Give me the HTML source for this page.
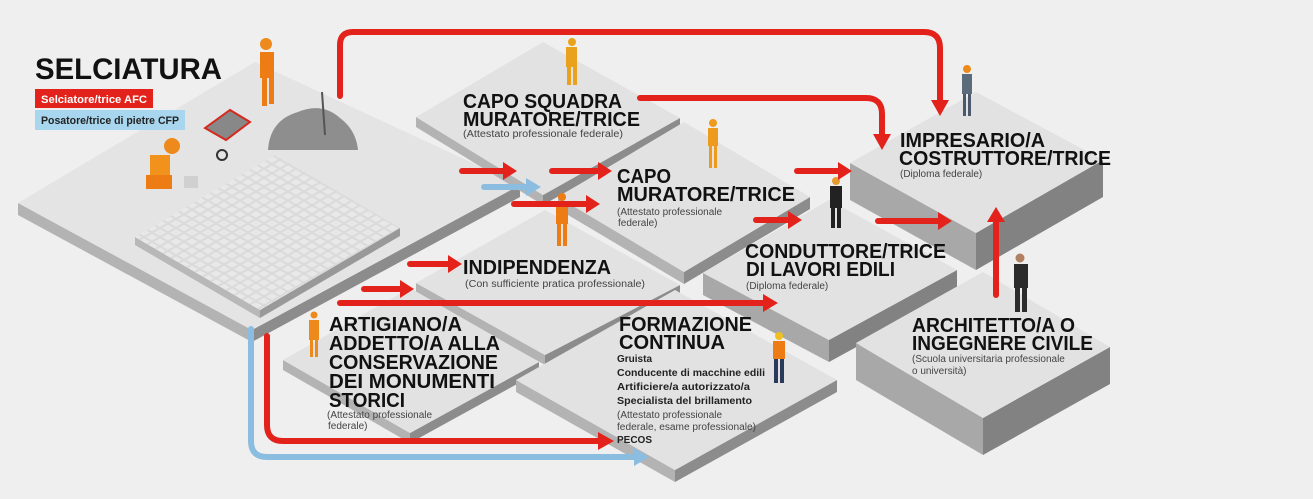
<!DOCTYPE html>
<html><head><meta charset="utf-8"><style>
html,body{margin:0;padding:0;background:#efefef;}
svg{display:block;}
.t{font-family:"Liberation Sans",sans-serif;font-weight:bold;fill:#111;}
.s{font-family:"Liberation Sans",sans-serif;fill:#444;font-size:10px;}
.b{font-family:"Liberation Sans",sans-serif;font-weight:bold;fill:#222;font-size:10px;}
</style></head><body>
<svg width="1313" height="499" viewBox="0 0 1313 499" xmlns="http://www.w3.org/2000/svg">
<defs>
<pattern id="tiles" width="8" height="8" patternUnits="userSpaceOnUse" patternTransform="matrix(1,0.57,-1,0.57,0,0)">
<rect width="8" height="8" fill="#dadada"/><rect x="1" y="1" width="6" height="6" fill="#e8e8e8"/>
</pattern>
</defs>
<rect width="1313" height="499" fill="#efefef"/>
<g id="plat">
<polygon points="18,203 252,330 252,342 18,215" fill="#b3b3b3"/>
<polygon points="252,330 520,185 520,197 252,342" fill="#8c8c8c"/>
<polygon points="18,203 255,62 520,185 252,330" fill="#e4e4e4"/>
<polygon points="416,117 543,195 543,205 416,127" fill="#b3b3b3"/>
<polygon points="543,195 680,118 680,128 543,205" fill="#8c8c8c"/>
<polygon points="416,117 543,42 680,118 543,195" fill="#e2e2e2"/>
<polygon points="558,197 684,272 684,284 558,209" fill="#b3b3b3"/>
<polygon points="684,272 810,197 810,209 684,284" fill="#8c8c8c"/>
<polygon points="558,197 684,122 810,197 684,272" fill="#e2e2e2"/>
<polygon points="850,163 976,233 976,270 850,200" fill="#a8a8a8"/>
<polygon points="976,233 1103,160 1103,197 976,270" fill="#828282"/>
<polygon points="850,163 976,92 1103,160 976,233" fill="#e2e2e2"/>
<polygon points="416,283 545,355 545,365 416,293" fill="#b3b3b3"/>
<polygon points="545,355 680,285 680,295 545,365" fill="#8c8c8c"/>
<polygon points="416,283 545,210 680,285 545,355" fill="#e2e2e2"/>
<polygon points="703,273 829,340 829,362 703,295" fill="#a8a8a8"/>
<polygon points="829,340 957,270 957,292 829,362" fill="#828282"/>
<polygon points="703,273 829,200 957,270 829,340" fill="#e2e2e2"/>
<polygon points="283,360 410,433 410,443 283,370" fill="#b3b3b3"/>
<polygon points="410,433 539,362 539,372 410,443" fill="#8c8c8c"/>
<polygon points="283,360 410,288 539,362 410,433" fill="#e2e2e2"/>
<polygon points="516,380 675,470 675,482 516,392" fill="#b3b3b3"/>
<polygon points="675,470 837,380 837,392 675,482" fill="#8c8c8c"/>
<polygon points="516,380 675,290 837,380 675,470" fill="#e2e2e2"/>
<polygon points="856,343 983,418 983,455 856,380" fill="#a8a8a8"/>
<polygon points="983,418 1110,347 1110,384 983,455" fill="#828282"/>
<polygon points="856,343 983,272 1110,347 983,418" fill="#e2e2e2"/>
</g>
<polygon points="135,237 260,310 260,318 135,245" fill="#b8b8b8"/>
<polygon points="260,310 400,228 400,236 260,318" fill="#999"/>
<polygon points="135,237 275,155 400,228 260,310" fill="url(#tiles)"/>
<path d="M268,150 Q270,120 298,112 Q322,102 340,118 Q356,130 358,150 Z" fill="#8e8e8e"/>
<line x1="322" y1="92" x2="325" y2="135" stroke="#555" stroke-width="2"/>
<polygon points="205,128 230,110 250,122 226,140" fill="#888" stroke="#d42a1f" stroke-width="2"/>
<circle cx="222" cy="155" r="5" fill="none" stroke="#333" stroke-width="2"/>
<g>
<circle cx="266" cy="44" r="6" fill="#ee8a1c"/>
<rect x="260" y="52" width="14" height="26" fill="#ee7c14"/>
<rect x="262" y="78" width="5" height="28" fill="#ee7c14"/>
<rect x="269" y="78" width="5" height="26" fill="#ee7c14"/>
</g>
<g>
<circle cx="172" cy="146" r="8" fill="#ee8a1c"/>
<rect x="150" y="155" width="20" height="22" fill="#f0921c"/>
<rect x="146" y="175" width="26" height="14" fill="#ee7c14"/>
<rect x="184" y="176" width="14" height="12" fill="#d0d0d0"/>
</g>
<g fill="#eaa21c"><circle cx="572" cy="42" r="4"/><rect x="566" y="47" width="11" height="20"/><rect x="567" y="67" width="4" height="18"/><rect x="573" y="67" width="4" height="18"/></g>
<g fill="#ee9a1c"><circle cx="713" cy="123" r="4"/><rect x="708" y="128" width="10" height="18"/><rect x="709" y="146" width="3" height="22"/><rect x="714" y="146" width="3" height="22"/></g>
<g fill="#ee7c14"><circle cx="562" cy="197" r="4"/><rect x="556" y="202" width="12" height="22"/><rect x="557" y="224" width="4" height="22"/><rect x="563" y="224" width="4" height="22"/></g>
<g fill="#ee8a1c"><circle cx="314" cy="315" r="3.5"/><rect x="309" y="320" width="10" height="20"/><rect x="310" y="340" width="3" height="17"/><rect x="315" y="340" width="3" height="17"/></g>
<g><circle cx="836" cy="181" r="4" fill="#e89a2a"/><rect x="830" y="186" width="12" height="22" fill="#222"/><rect x="831" y="208" width="4" height="20" fill="#222"/><rect x="837" y="208" width="4" height="20" fill="#222"/></g>
<g><circle cx="967" cy="69" r="4" fill="#ee8a1c"/><rect x="962" y="74" width="10" height="20" fill="#5a6b7c"/><rect x="963" y="94" width="3" height="22" fill="#4a5a6a"/><rect x="968" y="94" width="3" height="22" fill="#4a5a6a"/></g>
<g fill="#2b2b2b"><circle cx="1020" cy="258" r="4.5" fill="#b08060"/><rect x="1014" y="264" width="14" height="24"/><rect x="1015" y="288" width="5" height="24"/><rect x="1022" y="288" width="5" height="24"/></g>
<g><circle cx="779" cy="336" r="4" fill="#f0c020"/><rect x="773" y="341" width="12" height="18" fill="#ee7c14"/><rect x="774" y="359" width="4" height="24" fill="#2a3a5a"/><rect x="780" y="359" width="4" height="24" fill="#2a3a5a"/></g>

<g fill="none" stroke-width="6" stroke-linecap="round">
<path d="M340,96 V45 Q340,32 353,32 H924 Q940,32 940,48 V100" stroke="#e3231b"/>
<path d="M640,98 H866 Q882,98 882,114 V136" stroke="#e3231b"/>
<path d="M462,171 H505" stroke="#e3231b"/>
<path d="M484,187 H528" stroke="#8bbde0"/>
<path d="M552,171 H600" stroke="#e3231b"/>
<path d="M514,204 H588" stroke="#e3231b"/>
<path d="M797,171 H840" stroke="#e3231b"/>
<path d="M756,220 H790" stroke="#e3231b"/>
<path d="M878,221 H940" stroke="#e3231b"/>
<path d="M996,295 V220" stroke="#e3231b"/>
<path d="M410,264 H450" stroke="#e3231b"/>
<path d="M364,289 H402" stroke="#e3231b"/>
<path d="M340,303 H765" stroke="#e3231b"/>
<path d="M267,336 V425 Q267,441 283,441 H600" stroke="#e3231b"/>
<path d="M251,329 V441 Q251,457 267,457 H636" stroke="#8bbde0"/>
</g>
<g fill="#e3231b">
<polygon points="931,100 949,100 940,116"/>
<polygon points="873,134 891,134 882,150"/>
<polygon points="503,162 503,180 517,171"/>
<polygon points="598,162 598,180 612,171"/>
<polygon points="586,195 586,213 600,204"/>
<polygon points="838,162 838,180 852,171"/>
<polygon points="788,211 788,229 802,220"/>
<polygon points="938,212 938,230 952,221"/>
<polygon points="987,222 1005,222 996,207"/>
<polygon points="448,255 448,273 462,264"/>
<polygon points="400,280 400,298 414,289"/>
<polygon points="763,294 763,312 778,303"/>
<polygon points="598,432 598,450 614,441"/>
</g>
<polygon points="526,178 526,196 541,187" fill="#8bbde0"/>
<polygon points="634,448 634,466 649,457" fill="#8bbde0"/>

<text class="t" x="35" y="79" font-size="30" textLength="187" lengthAdjust="spacingAndGlyphs">SELCIATURA</text>
<rect x="35" y="89" width="118" height="19" fill="#e3231b"/>
<text x="41" y="103" font-family="Liberation Sans,sans-serif" font-weight="bold" font-size="11" fill="#fff" textLength="106" lengthAdjust="spacingAndGlyphs">Selciatore/trice AFC</text>
<rect x="35" y="110" width="150" height="20" fill="#a9d6ef"/>
<text x="41" y="124" font-family="Liberation Sans,sans-serif" font-weight="bold" font-size="11" fill="#222" textLength="138" lengthAdjust="spacingAndGlyphs">Posatore/trice di pietre CFP</text>

<g font-size="20">
<text class="t" x="463" y="108" textLength="159" lengthAdjust="spacingAndGlyphs">CAPO SQUADRA</text>
<text class="t" x="463" y="126" textLength="177" lengthAdjust="spacingAndGlyphs">MURATORE/TRICE</text>
<text class="t" x="617" y="183" textLength="54" lengthAdjust="spacingAndGlyphs">CAPO</text>
<text class="t" x="617" y="201" textLength="178" lengthAdjust="spacingAndGlyphs">MURATORE/TRICE</text>
<text class="t" x="900" y="147" textLength="145" lengthAdjust="spacingAndGlyphs">IMPRESARIO/A</text>
<text class="t" x="899" y="165" textLength="212" lengthAdjust="spacingAndGlyphs">COSTRUTTORE/TRICE</text>
<text class="t" x="745" y="258" textLength="201" lengthAdjust="spacingAndGlyphs">CONDUTTORE/TRICE</text>
<text class="t" x="746" y="276" textLength="149" lengthAdjust="spacingAndGlyphs">DI LAVORI EDILI</text>
<text class="t" x="463" y="274" textLength="148" lengthAdjust="spacingAndGlyphs">INDIPENDENZA</text>
<text class="t" x="329" y="331" textLength="133" lengthAdjust="spacingAndGlyphs">ARTIGIANO/A</text>
<text class="t" x="329" y="350" textLength="171" lengthAdjust="spacingAndGlyphs">ADDETTO/A ALLA</text>
<text class="t" x="329" y="369" textLength="169" lengthAdjust="spacingAndGlyphs">CONSERVAZIONE</text>
<text class="t" x="329" y="388" textLength="166" lengthAdjust="spacingAndGlyphs">DEI MONUMENTI</text>
<text class="t" x="329" y="407" textLength="76" lengthAdjust="spacingAndGlyphs">STORICI</text>
<text class="t" x="619" y="331" textLength="133" lengthAdjust="spacingAndGlyphs">FORMAZIONE</text>
<text class="t" x="619" y="349" textLength="106" lengthAdjust="spacingAndGlyphs">CONTINUA</text>
<text class="t" x="912" y="332" textLength="163" lengthAdjust="spacingAndGlyphs">ARCHITETTO/A O</text>
<text class="t" x="912" y="350" textLength="181" lengthAdjust="spacingAndGlyphs">INGEGNERE CIVILE</text>
</g>
<text class="s" x="463" y="137" textLength="160" lengthAdjust="spacingAndGlyphs">(Attestato professionale federale)</text>
<text class="s" x="617" y="215">(Attestato professionale</text>
<text class="s" x="618" y="226">federale)</text>
<text class="s" x="900" y="177">(Diploma federale)</text>
<text class="s" x="746" y="289">(Diploma federale)</text>
<text class="s" x="465" y="287" textLength="180" lengthAdjust="spacingAndGlyphs">(Con sufficiente pratica professionale)</text>
<text class="s" x="327" y="418">(Attestato professionale</text>
<text class="s" x="328" y="429">federale)</text>
<text class="b" x="617" y="362">Gruista</text>
<text class="b" x="617" y="376" textLength="148" lengthAdjust="spacingAndGlyphs">Conducente di macchine edili</text>
<text class="b" x="617" y="390" textLength="133" lengthAdjust="spacingAndGlyphs">Artificiere/a autorizzato/a</text>
<text class="b" x="617" y="404" textLength="135" lengthAdjust="spacingAndGlyphs">Specialista del brillamento</text>
<text class="s" x="617" y="418">(Attestato professionale</text>
<text class="s" x="617" y="430" textLength="139" lengthAdjust="spacingAndGlyphs">federale, esame professionale)</text>
<text class="b" x="617" y="443">PECOS</text>
<text class="s" x="912" y="362">(Scuola universitaria professionale</text>
<text class="s" x="912" y="374">o università)</text>
</svg>
</body></html>
